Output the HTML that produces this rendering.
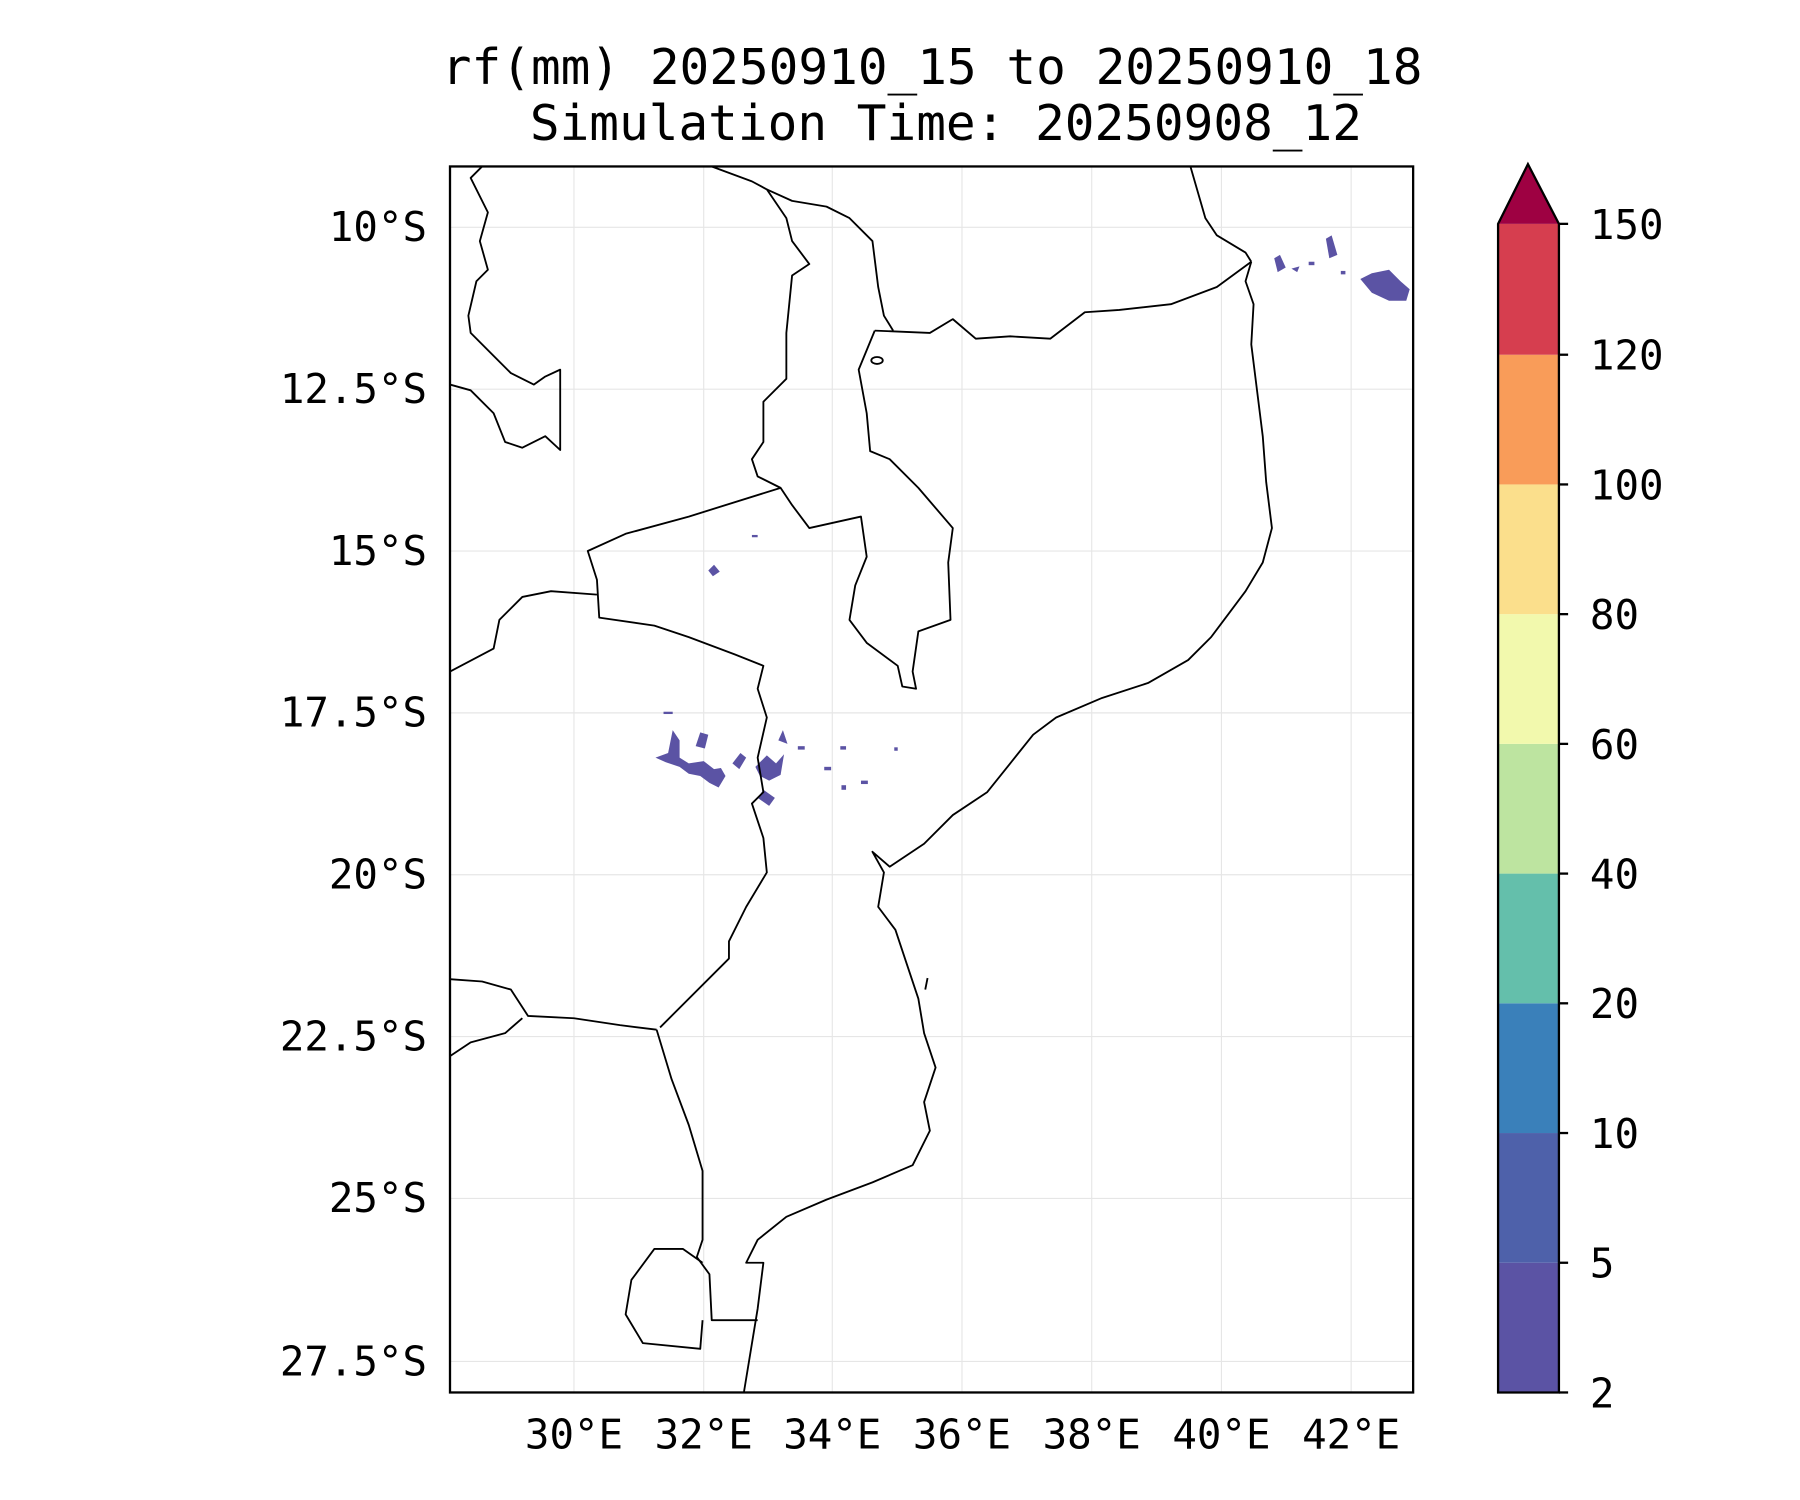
<!DOCTYPE html>
<html><head><meta charset="utf-8"><style>html,body{margin:0;padding:0;background:#fff}svg{display:block}</style></head>
<body>
<svg width="1800" height="1500" viewBox="0 0 1568 1306.67" xmlns="http://www.w3.org/2000/svg" font-family="'DejaVu Sans Mono','Liberation Mono',monospace">
<rect width="1568" height="1307" fill="#fff"/>
<text x="812" y="73" font-size="43" text-anchor="middle">rf(mm) 20250910_15 to 20250910_18</text>
<text x="824" y="122" font-size="43" text-anchor="middle">Simulation Time: 20250908_12</text>
<g stroke="#e6e6e6" stroke-width="1">
<line x1="500" y1="145" x2="500" y2="1213"/><line x1="613" y1="145" x2="613" y2="1213"/><line x1="725" y1="145" x2="725" y2="1213"/><line x1="838" y1="145" x2="838" y2="1213"/><line x1="951" y1="145" x2="951" y2="1213"/><line x1="1064" y1="145" x2="1064" y2="1213"/><line x1="1177" y1="145" x2="1177" y2="1213"/>
<line x1="392" y1="198" x2="1231" y2="198"/><line x1="392" y1="339" x2="1231" y2="339"/><line x1="392" y1="480" x2="1231" y2="480"/><line x1="392" y1="621" x2="1231" y2="621"/><line x1="392" y1="762" x2="1231" y2="762"/><line x1="392" y1="903" x2="1231" y2="903"/><line x1="392" y1="1044" x2="1231" y2="1044"/><line x1="392" y1="1186" x2="1231" y2="1186"/>
</g>
<g fill="#5b53a4">
<path d="M571,660 L582,656 L586,636 L592,645 L592,660 L600,665 L613,663 L622,670 L628,669 L632,676 L626,686 L618,682 L610,676 L600,674 L592,668 L580,664 Z"/>
<path d="M606,650 L610,638 L617,640 L614,652 Z"/>
<path d="M638,665 L645,656 L650,660 L644,670 Z"/>
<path d="M658,668 L668,658 L676,665 L683,657 L680,675 L670,680 L662,676 Z"/>
<path d="M660,695 L665,688 L675,695 L670,702 Z"/>
<path d="M678,645 L682,636 L686,648 Z"/>
<path d="M617,497 L622,492 L627,498 L621,502 Z"/>
<path d="M1185,243 L1195,238 L1210,235 L1220,245 L1228,252 L1225,262 L1210,262 L1195,255 Z"/>
<path d="M1110,225 L1115,222 L1120,233 L1113,237 Z"/>
<path d="M1155,208 L1160,205 L1165,222 L1158,225 Z"/>
<path d="M1125,234 L1132,232 L1130,237 Z"/>
<rect x="1140" y="228" width="5" height="3"/><rect x="1168" y="236" width="4" height="3"/>
<rect x="695" y="650" width="6" height="3"/><rect x="718" y="668" width="6" height="3"/><rect x="732" y="650" width="5" height="3"/><rect x="750" y="680" width="6" height="3"/><rect x="733" y="684" width="4" height="4"/><rect x="578" y="620" width="8" height="2"/><rect x="655" y="466" width="5" height="2"/><rect x="779" y="651" width="3" height="3"/>
</g>
<g fill="none" stroke="#000" stroke-width="1.6" stroke-linejoin="round">
<polyline points="1090,228 1085,245 1092,265 1090,300 1095,340 1100,380 1103,420 1108,460 1100,490 1085,515 1070,535 1055,555 1035,575 1000,595 960,608 920,625 900,640 880,665 860,690 830,710 805,735 775,755 760,742 770,760 765,790 780,810 790,840 800,870 805,900 815,930 805,960 810,985 795,1015 760,1030 720,1045 685,1060 660,1080 650,1100 665,1100 660,1140 648,1213"/>
<polyline points="1090,228 1060,250 1020,265 975,270 945,272 915,295 880,293 850,295 830,278 810,290 762,288"/>
<polyline points="1037,145 1050,190 1060,205 1085,220 1090,228"/>
<polyline points="762,288 748,322 755,360 758,393 775,400 800,425 830,460 826,490 828,540 800,550 795,585 798,600 786,598 782,580 755,560 740,540 745,510 755,485 750,450 705,460 690,440 680,425 660,415 655,400 665,385 665,350 685,330 685,290 690,240 705,230 690,210 685,190 668,165 655,158 620,145"/>
<polyline points="668,165 690,175 720,180 740,190 760,210 765,250 770,275 778,288"/>
<polyline points="680,425 600,450 545,465 512,480 520,505 522,538 570,545 600,555 640,570 665,580 660,600 668,625 660,660 665,690 655,700 665,730 668,760 650,790 635,820 635,835 575,895"/>
<polyline points="572,897 585,940 600,980 612,1020 612,1080 607,1095 618,1110 620,1150 660,1150"/>
<polyline points="612,1100 595,1088 570,1088 550,1115 545,1145 560,1170 610,1175 612,1150"/>
<polyline points="520,518 480,515 455,520 435,540 430,565 392,585"/>
<polyline points="392,853 420,855 445,862 460,885 500,887 540,893 572,897"/>
<polyline points="392,920 410,908 440,900 455,887"/>
<polyline points="392,335 410,340 430,360 440,385 455,390 475,380 488,392 488,322 475,328 465,335 445,325 430,310 410,290 408,275 415,245 425,235 418,210 425,185 410,155 420,145"/>
<ellipse cx="764" cy="314" rx="5" ry="3"/>
<line x1="808" y1="852" x2="806" y2="862"/>
</g>
<rect x="392" y="145" width="839" height="1068" fill="none" stroke="#000" stroke-width="2"/>
<g font-size="35.5" text-anchor="end">
<text x="372" y="210">10°S</text><text x="372" y="351">12.5°S</text><text x="372" y="492">15°S</text><text x="372" y="633">17.5°S</text><text x="372" y="774">20°S</text><text x="372" y="915">22.5°S</text><text x="372" y="1056">25°S</text><text x="372" y="1198">27.5°S</text>
</g>
<g font-size="35.5" text-anchor="middle">
<text x="500" y="1262">30°E</text><text x="613" y="1262">32°E</text><text x="725" y="1262">34°E</text><text x="838" y="1262">36°E</text><text x="951" y="1262">38°E</text><text x="1064" y="1262">40°E</text><text x="1177" y="1262">42°E</text>
</g>
<g>
<rect x="1305" y="1100" width="53" height="113" fill="#5b53a4"/>
<rect x="1305" y="987" width="53" height="113" fill="#4e61aa"/>
<rect x="1305" y="874" width="53" height="113" fill="#3a80ba"/>
<rect x="1305" y="761" width="53" height="113" fill="#64bfab"/>
<rect x="1305" y="648" width="53" height="113" fill="#bde4a0"/>
<rect x="1305" y="535" width="53" height="113" fill="#f2f9ad"/>
<rect x="1305" y="422" width="53" height="113" fill="#fbdf8c"/>
<rect x="1305" y="309" width="53" height="113" fill="#f99c59"/>
<rect x="1305" y="195" width="53" height="114" fill="#d63e4f"/>
<polygon points="1305,195 1331,143 1358,195" fill="#9e0142"/>
<polygon points="1305,195 1331,143 1358,195 1358,1213 1305,1213" fill="none" stroke="#000" stroke-width="2"/>
</g>
<g stroke="#000" stroke-width="2">
<line x1="1358" y1="1213" x2="1366" y2="1213"/><line x1="1358" y1="1100" x2="1366" y2="1100"/><line x1="1358" y1="987" x2="1366" y2="987"/><line x1="1358" y1="874" x2="1366" y2="874"/><line x1="1358" y1="761" x2="1366" y2="761"/><line x1="1358" y1="648" x2="1366" y2="648"/><line x1="1358" y1="535" x2="1366" y2="535"/><line x1="1358" y1="422" x2="1366" y2="422"/><line x1="1358" y1="309" x2="1366" y2="309"/><line x1="1358" y1="195" x2="1366" y2="195"/>
</g>
<g font-size="35.5">
<text x="1385" y="1226">2</text><text x="1385" y="1113">5</text><text x="1385" y="1000">10</text><text x="1385" y="887">20</text><text x="1385" y="774">40</text><text x="1385" y="661">60</text><text x="1385" y="548">80</text><text x="1385" y="435">100</text><text x="1385" y="322">120</text><text x="1385" y="208">150</text>
</g>
</svg>
</body></html>
